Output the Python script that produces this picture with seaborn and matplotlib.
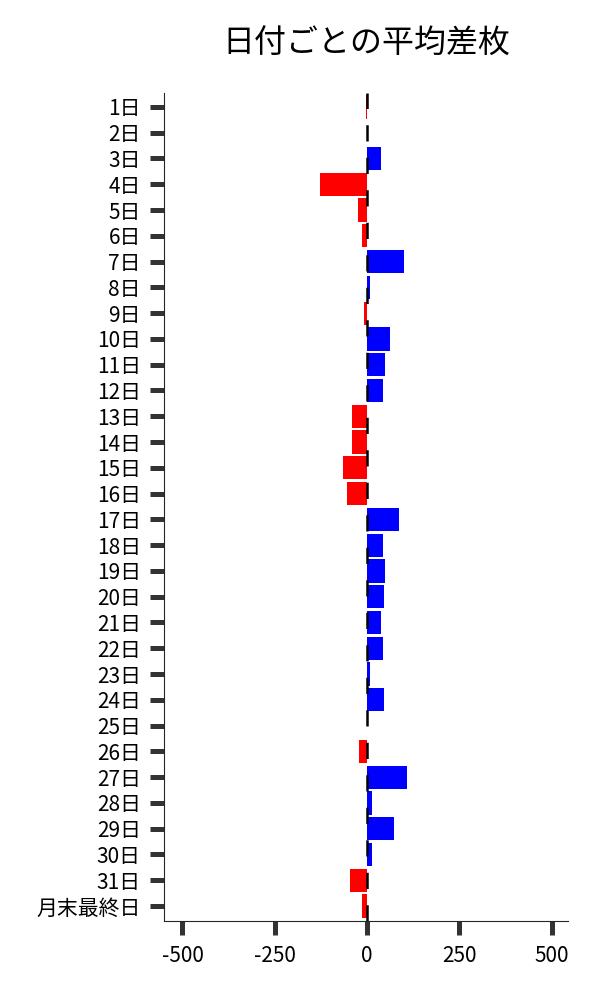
import matplotlib
matplotlib.use("Agg")
import matplotlib.pyplot as plt
import seaborn as sns
import pandas as pd

days = ["1日", "2日", "3日", "4日", "5日", "6日", "7日", "8日", "9日", "10日",
        "11日", "12日", "13日", "14日", "15日", "16日", "17日", "18日", "19日", "20日",
        "21日", "22日", "23日", "24日", "25日", "26日", "27日", "28日", "29日", "30日",
        "31日", "月末最終日"]
avg_diff = [-2, 0, 37, -128, -24, -14, 100, 7, -8, 62,
            49, 43, -41, -41, -65, -54, 86, 43, 49, 46,
            38, 43, 7, 46, 0, -22, 109, 14, 73, 14,
            -46, -13]

df = pd.DataFrame({"day": days, "diff": avg_diff})
df["sign"] = ["neg" if v < 0 else "pos" for v in df["diff"]]

sns.set_style("ticks")
plt.rcParams["font.family"] = ["Noto Sans CJK JP", "DejaVu Sans"]
plt.rcParams["axes.unicode_minus"] = False

fig, ax = plt.subplots(figsize=(6, 10), dpi=100)
fig.subplots_adjust(left=0.274, right=0.947, bottom=0.079, top=0.907)

sns.barplot(data=df, x="diff", y="day", hue="sign", order=days,
            palette={"neg": "red", "pos": "blue"}, dodge=False,
            saturation=1, width=0.9, linewidth=0, legend=False, ax=ax)
ax.axvline(0, color="black", linestyle=(0, (6.5, 6.5)), linewidth=1.8, zorder=3)

ax.set_xlim(-549, 545)
ax.set_ylim(31.58, -0.54)
ax.set_xticks([-500, -250, 0, 250, 500])
ax.set_xlabel("")
ax.set_ylabel("")
ax.tick_params(axis="both", length=10, width=3.6, color="#333333",
               labelsize=15, labelcolor="black")
ax.tick_params(axis="x", pad=7)
ax.tick_params(axis="y", pad=7)
ax.set_title("日付ごとの平均差枚", fontsize=23, color="black", pad=29)
sns.despine(ax=ax)

plt.savefig("out.png", dpi=100)
